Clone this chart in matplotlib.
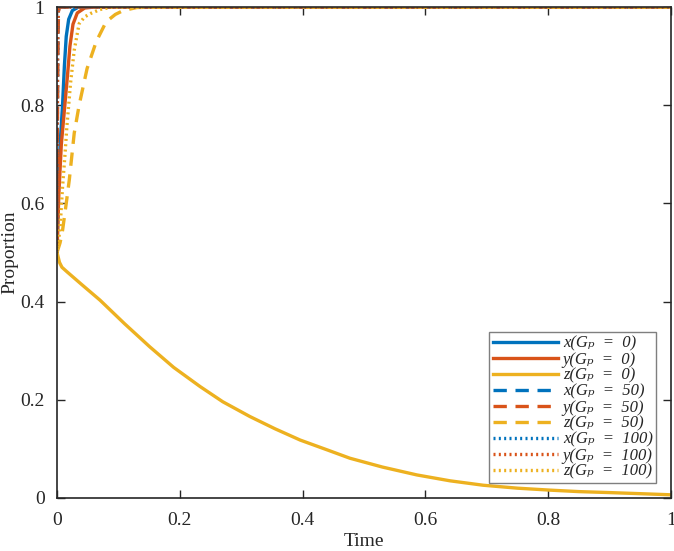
import matplotlib.pyplot as plt
from matplotlib.ticker import FormatStrFormatter
from matplotlib.font_manager import FontProperties

plt.rcParams['font.family'] = ['Liberation Serif', 'DejaVu Serif']

# 读取的曲线数据 (Gp = 0)
t_x0 = [0, 0.002, 0.005, 0.009, 0.012, 0.015, 0.019, 0.025, 0.035, 1.0]
x_0 = [0.5, 0.62, 0.72, 0.80, 0.88, 0.94, 0.975, 0.993, 1.0, 1.0]
t_y0 = [0, 0.003, 0.007, 0.012, 0.017, 0.021, 0.026, 0.033, 0.045, 0.06, 1.0]
y_0 = [0.5, 0.62, 0.72, 0.79, 0.86, 0.92, 0.965, 0.988, 0.998, 1.0, 1.0]
t_z0 = [0, 0.004, 0.008, 0.016, 0.04, 0.07, 0.11, 0.151, 0.19, 0.233, 0.27, 0.314,
        0.355, 0.396, 0.44, 0.477, 0.53, 0.586, 0.64, 0.694, 0.75, 0.803, 0.85,
        0.9, 0.95, 1.0]
z_0 = [0.5, 0.48, 0.47, 0.461, 0.435, 0.403, 0.355, 0.308, 0.266, 0.227, 0.196, 0.166,
       0.141, 0.118, 0.098, 0.081, 0.063, 0.047, 0.035, 0.026, 0.020, 0.016, 0.013,
       0.011, 0.0088, 0.0065]

# Gp = 50
t_x50 = [0, 0.0005, 0.001, 0.0015, 0.002, 0.003, 1.0]
x_50 = [0.5, 0.75, 0.9, 0.96, 0.99, 1.0, 1.0]
t_y50 = [0, 0.0006, 0.0012, 0.0018, 0.0025, 0.0035, 1.0]
y_50 = [0.5, 0.74, 0.89, 0.955, 0.988, 1.0, 1.0]
t_z50 = [0, 0.005, 0.009, 0.015, 0.02, 0.028, 0.036, 0.049, 0.064, 0.08, 0.095,
         0.108, 0.13, 0.16, 1.0]
z_50 = [0.5, 0.52, 0.545, 0.60, 0.648, 0.743, 0.80, 0.875, 0.93, 0.97, 0.985,
        0.993, 0.999, 1.0, 1.0]

# Gp = 100
t_x100 = [0, 0.0004, 0.0009, 0.0013, 0.0018, 0.0028, 1.0]
x_100 = [0.5, 0.76, 0.91, 0.965, 0.99, 1.0, 1.0]
t_y100 = [0, 0.0005, 0.001, 0.0016, 0.0022, 0.0032, 1.0]
y_100 = [0.5, 0.75, 0.9, 0.96, 0.99, 1.0, 1.0]
t_z100 = [0, 0.005, 0.009, 0.013, 0.016, 0.022, 0.028, 0.036, 0.045, 0.055, 0.07,
          0.089, 1.0]
z_100 = [0.5, 0.55, 0.634, 0.70, 0.756, 0.845, 0.912, 0.966, 0.98, 0.987, 0.995,
         1.0, 1.0]

labels = ['x(Gₚ  =  0)', 'y(Gₚ  =  0)', 'z(Gₚ  =  0)',
          'x(Gₚ  =  50)', 'y(Gₚ  =  50)', 'z(Gₚ  =  50)',
          'x(Gₚ  =  100)', 'y(Gₚ  =  100)', 'z(Gₚ  =  100)']

blue = '#0072BD'
red = '#D95319'
yellow = '#EDB120'

fig = plt.figure(figsize=(6.74, 5.51), dpi=100)
ax = fig.add_axes([0.0846, 0.0962, 0.911, 0.891])

lw = 2.4
dash = (0, (4, 2.6))
dot = (0, (0.6, 1.0))
ax.plot(t_x0, x_0, color=blue, lw=lw, ls='-', label=labels[0])
ax.plot(t_y0, y_0, color=red, lw=lw, ls='-', label=labels[1])
ax.plot(t_z0, z_0, color=yellow, lw=lw, ls='-', label=labels[2])
ax.plot(t_x50, x_50, color=blue, lw=lw, ls=dash, label=labels[3])
ax.plot(t_y50, y_50, color=red, lw=lw, ls=dash, label=labels[4])
ax.plot(t_z50, z_50, color=yellow, lw=lw, ls=dash, label=labels[5])
ax.plot(t_x100, x_100, color=blue, lw=lw, ls=dot, label=labels[6])
ax.plot(t_y100, y_100, color=red, lw=lw, ls=dot, label=labels[7])
ax.plot(t_z100, z_100, color=yellow, lw=lw, ls=dot, label=labels[8])

ax.set_xlim(0, 1)
ax.set_ylim(0, 1)
ax.set_xticks([0, 0.2, 0.4, 0.6, 0.8, 1])
ax.set_yticks([0, 0.2, 0.4, 0.6, 0.8, 1])
ax.xaxis.set_major_formatter(FormatStrFormatter('%g'))
ax.yaxis.set_major_formatter(FormatStrFormatter('%g'))
ax.tick_params(direction='in', top=True, right=True, length=6, width=1,
               labelsize=14, colors='#262626')
ax.tick_params(axis='x', pad=10)
ax.tick_params(axis='y', pad=9)
for s in ax.spines.values():
    s.set_color('#262626')
    s.set_linewidth(1.2)

ax.set_xlabel('Time', fontsize=14, color='#262626', labelpad=3)
ax.set_ylabel('Proportion', fontsize=14, color='#262626', labelpad=1)

leg_font = FontProperties(family=['Liberation Serif', 'DejaVu Serif', 'DejaVu Sans'],
                          style='italic', size=12)
leg = ax.legend(loc='lower right', prop=leg_font, handlelength=3.9,
                labelspacing=0.0, handletextpad=0.3, borderpad=0.2,
                borderaxespad=0.9, fancybox=False, framealpha=1)
leg.get_frame().set_edgecolor('#7f7f7f')
leg.get_frame().set_linewidth(1.0)
for txt in leg.get_texts():
    txt.set_color('#262626')

plt.savefig('out.png', dpi=100)
